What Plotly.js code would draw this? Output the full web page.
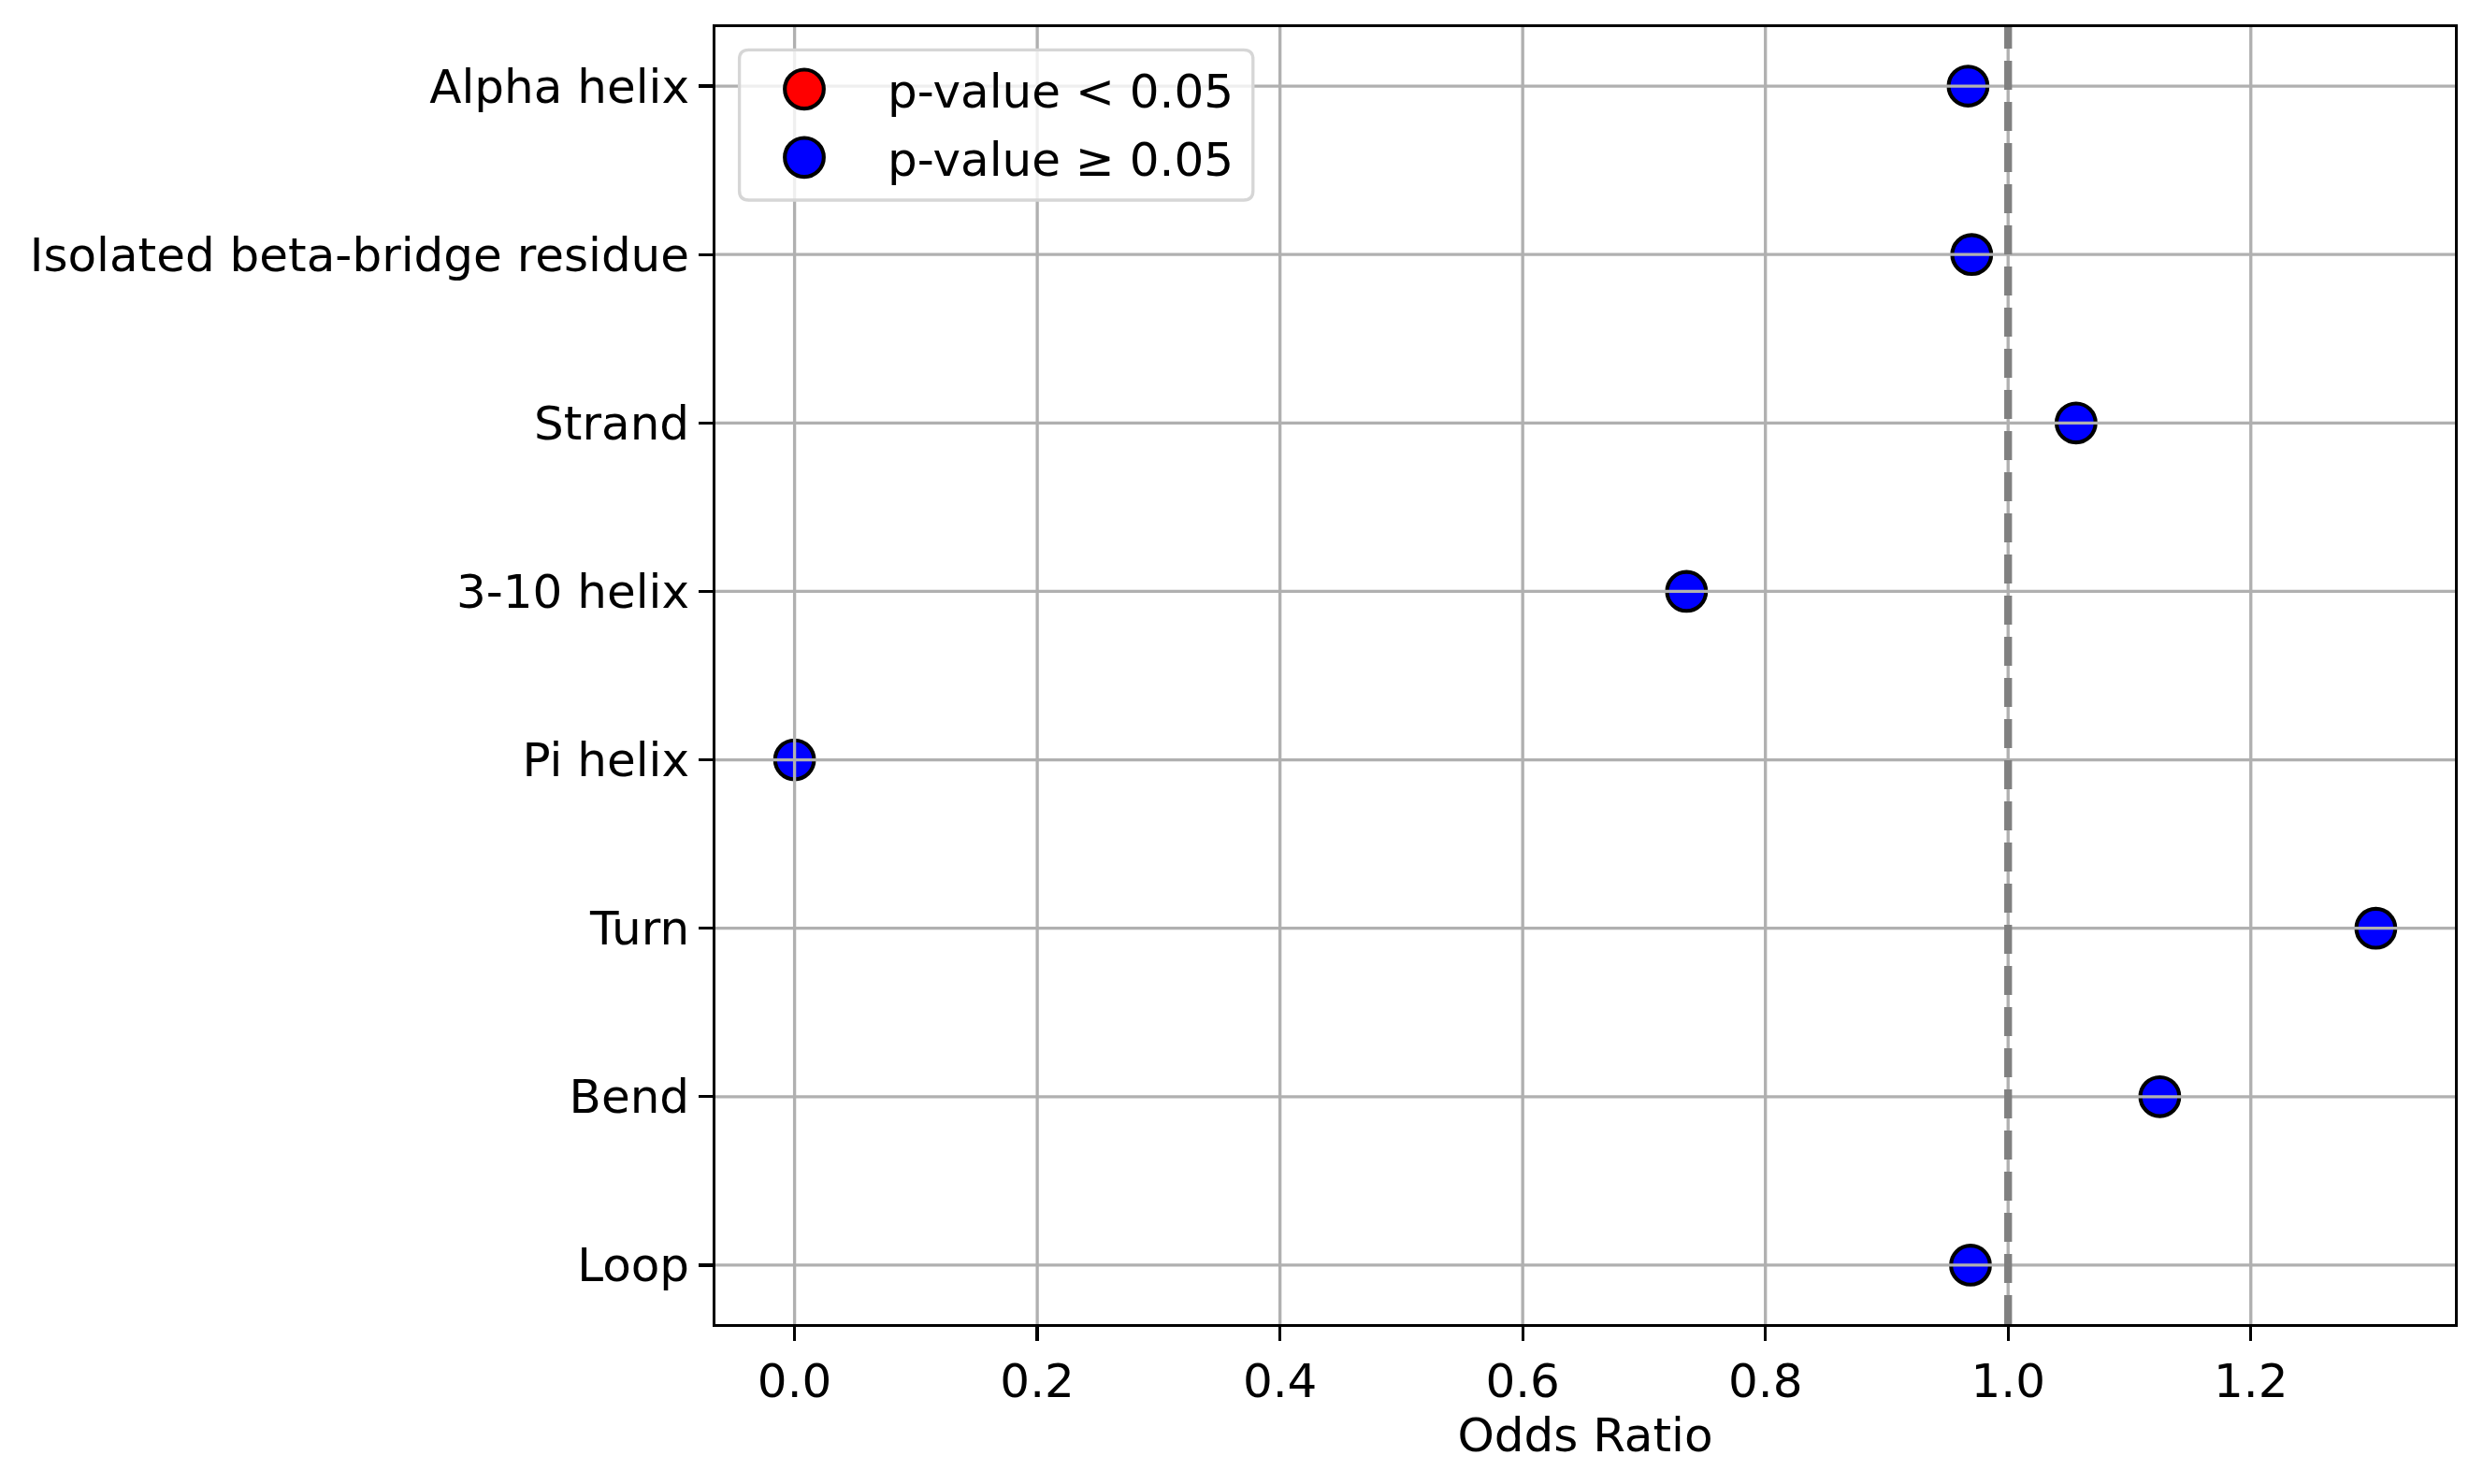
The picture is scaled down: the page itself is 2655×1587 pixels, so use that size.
<!DOCTYPE html>
<html>
<head>
<meta charset="utf-8">
<script src="https://cdn.plot.ly/plotly-3.0.1.min.js"></script>
<style>html,body{margin:0;padding:0;background:#fff;}</style>
</head>
<body>
<div id="chart" style="width:2655px;height:1587px;"></div>
<script>
// ---- data ----
const categories = ["Alpha helix", "Isolated beta-bridge residue", "Strand", "3-10 helix", "Pi helix", "Turn", "Bend", "Loop"];
const oddsRatios = [0.967, 0.970, 1.056, 0.735, 0.0, 1.303, 1.125, 0.969];
const significant = [false, false, false, false, false, false, false, false];
const xTickValues = [0.0, 0.2, 0.4, 0.6, 0.8, 1.0, 1.2];
const xTickLabels = ["0.0", "0.2", "0.4", "0.6", "0.8", "1.0", "1.2"];
const referenceLine = 1.0;
const legendLabels = ["p-value &lt; 0.05", "p-value ≥ 0.05"];
const legendColors = ["#ff0000", "#0000ff"];

const FONT = "DejaVu Sans";
const PT = 300 / 72;

const traces = [
  {
    type: "scatter", mode: "markers",
    x: oddsRatios, y: categories,
    marker: {
      size: 10 * PT,
      color: significant.map(s => s ? legendColors[0] : legendColors[1]),
      line: { color: "#000000", width: 1 * PT }
    },
    showlegend: false, hoverinfo: "x+y"
  }
];

const grid = { color: "#b0b0b0", width: 0.8 * PT };
const shapes = [];
xTickValues.forEach(v => shapes.push({
  type: "line", layer: "above", xref: "x", yref: "paper", x0: v, x1: v, y0: 0, y1: 1,
  line: grid
}));
categories.forEach(c => shapes.push({
  type: "line", layer: "above", xref: "paper", yref: "y", x0: 0, x1: 1, y0: c, y1: c,
  line: grid
}));
shapes.push({
  type: "line", layer: "above", xref: "x", yref: "paper",
  x0: referenceLine, x1: referenceLine, y0: 0, y1: 1,
  line: { color: "#808080", width: 2 * PT, dash: "31px,13px" }
});
// legend frame (pixel offsets from top-left corner of plot area)
const L = 25.6, R = 574.8, T = -24.3, B = -185, r = 10;
shapes.push({
  type: "path", layer: "above", xref: "paper", yref: "paper",
  xsizemode: "pixel", ysizemode: "pixel", xanchor: 0, yanchor: 1,
  path: `M ${L + r} ${T} L ${R - r} ${T} Q ${R} ${T} ${R} ${T - r} L ${R} ${B + r} Q ${R} ${B} ${R - r} ${B} L ${L + r} ${B} Q ${L} ${B} ${L} ${B + r} L ${L} ${T - r} Q ${L} ${T} ${L + r} ${T} Z`,
  fillcolor: "rgba(255,255,255,0.8)",
  line: { color: "#d6d6d6", width: 1 * PT * 0.8 }
});
const legendRowY = [-66.3, -139.3];
const msz = 10 * PT / 2;
legendColors.forEach((col, i) => shapes.push({
  type: "circle", layer: "above", xref: "paper", yref: "paper",
  xsizemode: "pixel", ysizemode: "pixel", xanchor: 0, yanchor: 1,
  x0: 95 - msz, x1: 95 + msz, y0: legendRowY[i] - msz, y1: legendRowY[i] + msz,
  fillcolor: col, line: { color: "#000000", width: 1 * PT }
}));

const plotW = 2655 - 765 - 30, plotH = 1587 - 29 - 171;
const annotations = legendLabels.map((t, i) => ({
  xref: "paper", yref: "paper",
  x: (947 - 765) / plotW, y: 1 + (legendRowY[i] - 2.5) / plotH,
  xanchor: "left", yanchor: "middle",
  text: t, showarrow: false,
  font: { family: FONT, size: 50, color: "#000000" }
}));

const layout = {
  width: 2655, height: 1587,
  margin: { l: 765, r: 30, t: 29, b: 171, pad: 0 },
  paper_bgcolor: "#ffffff", plot_bgcolor: "#ffffff",
  font: { family: FONT, size: 50, color: "#000000" },
  showlegend: false,
  xaxis: {
    range: [-0.0652, 1.3682],
    tickmode: "array", tickvals: xTickValues, ticktext: xTickLabels,
    showgrid: false, zeroline: false,
    showline: true, mirror: true, linecolor: "#000000", linewidth: 0.8 * PT,
    ticks: "outside", ticklen: 3.5 * PT, tickwidth: 0.8 * PT, tickcolor: "#000000",
    tickfont: { family: FONT, size: 50, color: "#000000" },
    title: { text: "Odds Ratio", font: { family: FONT, size: 50, color: "#000000" }, standoff: 0 },
    automargin: false
  },
  yaxis: {
    type: "category",
    categoryorder: "array", categoryarray: categories,
    range: [7.35, -0.35],
    showgrid: false, zeroline: false,
    showline: true, mirror: true, linecolor: "#000000", linewidth: 0.8 * PT,
    ticks: "outside", ticklen: 3.5 * PT, tickwidth: 0.8 * PT, tickcolor: "#000000",
    tickfont: { family: FONT, size: 50, color: "#000000" },
    ticklabelstandoff: 0,
    automargin: false
  },
  shapes: shapes,
  annotations: annotations
};

Plotly.newPlot("chart", traces, layout, { displayModeBar: false, staticPlot: true });
</script>
</body>
</html>
